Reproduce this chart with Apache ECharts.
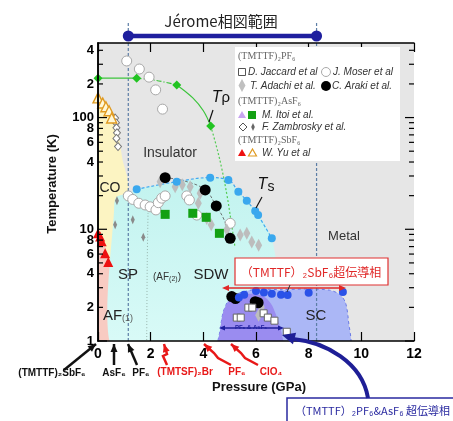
<!DOCTYPE html>
<html><head><meta charset="utf-8">
<script src="https://cdn.jsdelivr.net/npm/echarts@6/dist/echarts.min.js"></script>
<style>html,body{margin:0;padding:0;background:#fff}#c{width:453px;height:421px}</style>
</head><body><div id="c"></div>
<script>
// ---------------- data (pressure GPa, temperature K) ----------------
const pressureTicks = [0, 2, 4, 6, 8, 10, 12];
const tempMajorTicks = [1, 10, 100];
const tempMinorTicks = [2, 3, 4, 5, 6, 7, 8, 9, 20, 30, 40, 50, 60, 70, 80, 90, 200, 300, 400];
const tempTickLabels = [[1, '1'], [2, '2'], [4, '4'], [6, '6'], [8, '8'], [10, '10'], [40, '4'], [60, '6'], [80, '8'], [100, '100'], [200, '2'], [400, '4']];
const tempMax = 465;
const jeromeRange = [1.15, 8.3];

// (TMTTF)2PF6
const moserPF6 = [[1.09, 321], [1.57, 272], [1.94, 230], [2.19, 177], [2.45, 119],
  [1.15, 19.9], [1.32, 18.5], [1.55, 17.1], [1.79, 16.5], [1.98, 15.9], [2.2, 14.9], [2.29, 17.3], [2.42, 19.0],
  [2.55, 19.9], [3.37, 19.9], [3.47, 18.3], [3.75, 13.4], [5.02, 11.3]];
const arakiPF6 = [[2.55, 29], [4.07, 22.5], [4.49, 16.2], [5.02, 8.3], [5.08, 2.5], [5.22, 2.4], [5.97, 2.25], [6.08, 2.2]];
const jaccardPF6 = [[5.27, 1.62], [5.42, 1.62], [5.71, 1.99], [5.86, 1.99], [6.29, 1.77], [6.45, 1.62], [6.7, 1.52], [7.17, 1.21]];
const adachiPF6 = [[2.36, 26.7], [2.93, 24], [3.2, 25], [3.5, 24], [3.88, 21], [3.81, 17.1], [4.13, 12.5], [4.3, 11],
  [4.89, 9.9], [5.4, 8.9], [5.65, 9.2], [5.84, 7.7], [6.1, 7.2], [6.2, 2.0], [6.1, 1.7]];
// (TMTTF)2AsF6
const itoiAsF6 = [[2.55, 13.6], [3.6, 13.9], [4.11, 12.8], [4.61, 9.2]];
const zambrOpen = [[0.65, 99], [0.68, 90], [0.7, 81], [0.72, 73], [0.7, 65], [0.76, 55]];
const zambrFilled = [[0.72, 18], [0.65, 11], [1.32, 12.2], [1.72, 8.5]];
// (TMTTF)2SbF6
const yuFilled = [[0, 9.2], [0.08, 8.6], [0.14, 7.8], [0.27, 6.1], [0.39, 5.1]];
const yuOpen = [[0, 150], [0.18, 135], [0.3, 125], [0.42, 115], [0.52, 99]];
const tcSbF6 = [[5.35, 2.45], [5.55, 2.6], [6.0, 2.8], [6.3, 2.72], [6.6, 2.65], [6.95, 2.6], [7.2, 2.58], [8.0, 2.7], [9.3, 2.75]];

// T_rho and T_s lines
const tRhoPts = [[0, 225], [1.47, 225], [2.99, 196], [4.28, 84]];
const tRhoSolidA = [[0, 225], [1.47, 225]];
const tRhoDashed = [[1.47, 225], [2.2, 215], [2.99, 196]];
const tRhoSolidB = [[2.99, 196], [3.6, 150], [4.0, 115], [4.28, 84]];
const tRhoDotted = [[4.28, 84], [4.5, 55], [4.7, 35], [4.9, 20], [5.05, 12], [5.2, 7]];
const tsPts = [[1.47, 22.8], [2.99, 26.7], [4.26, 29], [4.95, 27.6], [5.33, 21.7], [5.65, 18], [5.97, 14.6], [6.08, 13.4], [6.6, 8.3]];
const arakiLine = [[2.55, 29], [3.3, 27], [4.07, 22.5], [4.49, 16.2], [4.8, 12], [5.02, 8.3]];
const spLine = [[1.9, 14], [1.87, 5], [1.85, 1]];

// phase regions (boundaries)
const regionCO = [[-0.3, 0.8], [-0.3, 155], [0, 155], [0.3, 130], [0.6, 100], [0.75, 80], [0.85, 55], [0.95, 40], [1.1, 30], [1.15, 22], [0.7, 19], [0.62, 15], [0.62, 0.8]];
const regionAF1 = [[-0.3, 0.8], [-0.3, 10], [0, 10], [0.2, 8.2], [0.4, 5.5], [0.62, 4.5], [0.62, 0.8]];
const regionSDW = [[0.62, 0.8], [0.62, 17], [0.7, 19.5], [1.15, 21], [1.47, 22.8], [2.99, 26.7], [4.26, 29], [4.95, 27.6], [5.33, 21.7], [5.65, 18], [5.97, 14.6], [6.3, 11.5], [6.6, 8.3], [6.75, 5.5], [6.85, 3], [6.85, 0.8]];
const regionSCSb = [[4.6, 0.8], [4.65, 1.3], [4.75, 1.8], [4.95, 2.3], [5.3, 2.65], [6, 2.9], [7, 2.88], [8, 2.92], [8.8, 2.85], [9.2, 2.6], [9.4, 2.2], [9.5, 1.6], [9.5, 0.8]];
const regionSCPF = [[4.6, 0.8], [4.65, 1.3], [4.75, 1.8], [4.95, 2.25], [5.3, 2.55], [5.8, 2.65], [6.3, 2.5], [6.6, 2.1], [6.85, 1.5], [7.0, 1.1], [7.05, 0.8]];

// ---------------- chart ----------------
const FONT = '"Liberation Sans", Arial, sans-serif';
const JP = '"Noto Sans CJK JP", "Liberation Sans", sans-serif';
const allTicks = tempMajorTicks.concat(tempMinorTicks);
const labelMap = new Map(tempTickLabels);

const regions = [
  { pts: regionCO, fill: '#fcf4c2', smooth: 0.15 },
  { pts: regionAF1, fill: '#f8cbc2', smooth: 0 },
  { pts: regionSDW, fill: { type: 'linear', x: 0, y: 0, x2: 0, y2: 1, colorStops: [{ offset: 0, color: '#c2f3ef' }, { offset: 1, color: '#dbfbf8' }] }, smooth: 0.2 },
  { pts: regionSCSb, fill: '#abb7f6', smooth: 0.25, stroke: '#6a7ae6', dash: [3, 3] },
  { pts: regionSCPF, fill: '#9a8cf0', smooth: 0.25 }
];

function sc(name, data, symbol, size, color, border, bw, z) {
  return { type: 'scatter', name, data, symbol, symbolSize: size, z: z || 10,
    itemStyle: { color, borderColor: border || color, borderWidth: bw || 0, opacity: 1 } };
}
function ln(data, color, width, type, z) {
  return { type: 'line', data, symbol: 'none', smooth: 0.4, z: z || 6, silent: true,
    lineStyle: { color, width, type } };
}

const series = [
  { type: 'custom', coordinateSystem: 'cartesian2d', clip: true, silent: true, z: 1, data: [[0, 1]],
    renderItem: (p, api) => ({ type: 'group', children: regions.map(r => ({
      type: 'polygon', shape: { points: r.pts.map(q => api.coord(q)), smooth: r.smooth },
      style: { fill: r.fill, stroke: r.stroke || null, lineWidth: r.stroke ? 1 : 0, lineDash: r.dash || null } })) }) },
  { type: 'custom', coordinateSystem: 'cartesian2d', clip: false, silent: true, z: 4, data: [[0, 1]],
    renderItem: (p, api) => {
      const xa = api.coord([jeromeRange[0], 1])[0], xb = api.coord([jeromeRange[1], 1])[0];
      const yb = api.coord([0, 1])[1], yt = api.coord([0, tempMax])[1];
      const dash = { stroke: '#5d7ea6', lineWidth: 1.2, lineDash: [3, 2] };
      return { type: 'group', children: [
        { type: 'line', shape: { x1: xa, y1: yt - 20, x2: xa, y2: yb }, style: dash },
        { type: 'line', shape: { x1: xb, y1: yt - 20, x2: xb, y2: yb }, style: dash },
        { type: 'line', shape: { x1: xa, y1: yt - 7, x2: xb, y2: yt - 7 }, style: { stroke: '#1f1f9e', lineWidth: 4.5 }, z2: 5 },
        { type: 'circle', shape: { cx: xa, cy: yt - 7, r: 5.5 }, style: { fill: '#1f1f9e' }, z2: 5 },
        { type: 'circle', shape: { cx: xb, cy: yt - 7, r: 5.5 }, style: { fill: '#1f1f9e' }, z2: 5 }
      ] };
    } },
  ln(tRhoSolidA, '#3cc43c', 1.2, 'solid'),
  ln(tRhoDashed, '#3cc43c', 1.2, [5, 2, 1, 2]),
  ln(tRhoSolidB, '#3cc43c', 1.2, 'solid'),
  ln(tRhoDotted, '#55cc55', 1.2, [2, 2]),
  ln(tsPts, '#40a8f0', 1.2, [3, 2]),
  ln(arakiLine, '#555555', 0.8, [3, 2]),
  ln(spLine, '#8aa39a', 0.8, [1, 2]),
  sc('Moser', moserPF6, 'circle', 10, '#ffffff', '#a8a8a8', 1),
  sc('Adachi', adachiPF6, 'diamond', [7, 13], '#bdbdbd'),
  sc('ZambrOpen', zambrOpen, 'diamond', [7, 8], '#ffffff', '#777', 1),
  sc('ZambrFilled', zambrFilled, 'diamond', [4, 9], '#8a8a8a'),
  sc('YuOpen', yuOpen, 'triangle', 10, '#fff8d8', '#e09a20', 1.4),
  sc('YuFilled', yuFilled, 'triangle', 10, '#ee1111'),
  sc('Itoi', itoiAsF6, 'rect', 9, '#13a013'),
  sc('Araki', arakiPF6, 'circle', 11, '#000000'),
  sc('Ts', tsPts, 'circle', 8, '#3aa8ee'),
  sc('TcSb', tcSbF6, 'circle', 8, '#2a52e8'),
  sc('Jaccard', jaccardPF6, 'rect', 7, '#ffffff', '#666', 1, 11),
  sc('Trho', tRhoPts, 'diamond', 9, '#22c422'),
  { type: 'custom', coordinateSystem: 'cartesian2d', clip: false, silent: true, z: 30,
    data: allTicks.map(t => [0, t]),
    renderItem: (p, api) => {
      const v = allTicks[p.dataIndex];
      const pl = api.coord([0, v]), pr = api.coord([12, v]);
      const len = tempMajorTicks.includes(v) ? 9 : 5;
      const ch = [
        { type: 'line', shape: { x1: pl[0], y1: pl[1], x2: pl[0] + len, y2: pl[1] }, style: { stroke: '#000', lineWidth: 1.2 } },
        { type: 'line', shape: { x1: pr[0], y1: pr[1], x2: pr[0] - len, y2: pr[1] }, style: { stroke: '#000', lineWidth: 1.2 } }
      ];
      if (labelMap.has(v)) ch.push({ type: 'text', x: pl[0] - 4, y: pl[1],
        style: { text: labelMap.get(v), fill: '#000', align: 'right', verticalAlign: 'middle', font: 'bold 13px ' + FONT } });
      return { type: 'group', children: ch };
    } }
];

// ---------------- annotations (layout) ----------------
const G = [];
function txt(x, y, text, font, fill, align, extra) {
  G.push(Object.assign({ type: 'text', x, y, z: 100,
    style: { text, font, fill: fill || '#222', align: align || 'center', verticalAlign: 'middle' } }, extra || {}));
}
function head(x1, y1, x2, y2, color, len, wid) {
  const a = Math.atan2(y2 - y1, x2 - x1);
  const bx = x2 - len * Math.cos(a), by = y2 - len * Math.sin(a);
  const nx = -Math.sin(a) * wid / 2, ny = Math.cos(a) * wid / 2;
  G.push({ type: 'polygon', z: 101, shape: { points: [[x2, y2], [bx + nx, by + ny], [bx - nx, by - ny]] }, style: { fill: color } });
}
function arrow(pts, color, w, hl, hw) {
  G.push({ type: 'polyline', z: 100, shape: { points: pts }, style: { stroke: color, lineWidth: w, fill: null } });
  const n = pts.length;
  head(pts[n - 2][0], pts[n - 2][1], pts[n - 1][0], pts[n - 1][1], color, hl, hw);
}
function shape(type, sh, style) { G.push({ type, shape: sh, style, z: 102 }); }

// title
txt(221, 21, 'Jérome相図範囲', '15px ' + JP, '#222');

// legend
G.push({ type: 'rect', z: 99, shape: { x: 235, y: 47, width: 165, height: 114 }, style: { fill: '#ffffff' } });
const SERIF = '10px "Liberation Serif", serif';
const IT = 'italic 10px ' + FONT;
txt(238, 56, '(TMTTF)₂PF₆', SERIF, '#666', 'left');
shape('rect', { x: 238.5, y: 68.5, width: 7, height: 7 }, { fill: '#fff', stroke: '#555', lineWidth: 1 });
txt(248, 72, 'D. Jaccard et al', IT, '#333', 'left');
shape('circle', { cx: 326, cy: 72, r: 4.5 }, { fill: '#fff', stroke: '#aaa', lineWidth: 1 });
txt(333, 72, 'J. Moser et al', IT, '#333', 'left');
shape('polygon', { points: [[242, 79], [245.5, 85.5], [242, 92], [238.5, 85.5]] }, { fill: '#c0c0c0' });
txt(250, 86, 'T. Adachi et al.', IT, '#333', 'left');
shape('circle', { cx: 326, cy: 86, r: 5 }, { fill: '#000' });
txt(332, 86, 'C. Araki et al.', IT, '#333', 'left');
txt(238, 101, '(TMTTF)₂AsF₆', SERIF, '#666', 'left');
shape('polygon', { points: [[242, 111], [246, 118], [238, 118]] }, { fill: '#c8a4f0' });
shape('rect', { x: 248, y: 111, width: 8, height: 8 }, { fill: '#13a013' });
txt(262, 115, 'M. Itoi et al.', IT, '#333', 'left');
shape('polygon', { points: [[243, 123], [247, 127], [243, 131], [239, 127]] }, { fill: '#fff', stroke: '#555', lineWidth: 1 });
shape('polygon', { points: [[253, 123], [254.8, 127], [253, 131], [251.2, 127]] }, { fill: '#666' });
txt(262, 127, 'F. Zambrosky et al.', IT, '#333', 'left');
txt(238, 140, '(TMTTF)₂SbF₆', SERIF, '#666', 'left');
shape('polygon', { points: [[242, 149], [246, 156], [238, 156]] }, { fill: '#ee1111' });
shape('polygon', { points: [[252.5, 149], [256.5, 156], [248.5, 156]] }, { fill: '#fff', stroke: '#e09a20', lineWidth: 1.2 });
txt(262, 153, 'W. Yu et al', IT, '#333', 'left');

// phase labels
txt(170, 153, 'Insulator', '14px ' + FONT, '#333');
txt(110, 188, 'CO', '14px ' + FONT, '#222');
txt(344, 236, 'Metal', '13px ' + FONT, '#333');
txt(128, 275, 'SP', '15px ' + FONT, '#222');
G.push({ type: 'text', x: 167, y: 277, z: 100, style: { text: '{a|(AF}{b|(2)}{a|)}', align: 'center', verticalAlign: 'middle',
  rich: { a: { font: '10px ' + FONT, fill: '#333' }, b: { font: '7px ' + FONT, fill: '#333', padding: [4, 0, 0, 0] } } } });
txt(211, 275, 'SDW', '15px ' + FONT, '#222');
G.push({ type: 'text', x: 118, y: 316, z: 100, style: { text: '{a|AF}{b|(1)}', align: 'center', verticalAlign: 'middle',
  rich: { a: { font: '15px ' + FONT, fill: '#222' }, b: { font: '9px ' + FONT, fill: '#555', padding: [5, 0, 0, 0] } } } });
txt(316, 316, 'SC', '15px ' + FONT, '#222');

// T_rho, T_s labels
G.push({ type: 'text', x: 221, y: 98, z: 100, style: { text: '{a|T}{b|ρ}', align: 'center', verticalAlign: 'middle',
  rich: { a: { font: 'italic 16px ' + FONT, fill: '#111' }, b: { font: '15px ' + FONT, fill: '#111' } } } });
G.push({ type: 'line', z: 100, shape: { x1: 213, y1: 110, x2: 209, y2: 122 }, style: { stroke: '#111', lineWidth: 1.2 } });
G.push({ type: 'text', x: 266, y: 185, z: 100, style: { text: '{a|T}{b|s}', align: 'center', verticalAlign: 'middle',
  rich: { a: { font: 'italic 16px ' + FONT, fill: '#111' }, b: { font: '14px ' + FONT, fill: '#111', padding: [5, 0, 0, 0] } } } });
G.push({ type: 'line', z: 100, shape: { x1: 262, y1: 197, x2: 256, y2: 208 }, style: { stroke: '#111', lineWidth: 1.2 } });

// SbF6 SC box + arrow
G.push({ type: 'rect', z: 100, shape: { x: 235, y: 258, width: 153, height: 27 }, style: { fill: '#fff', stroke: '#e03030', lineWidth: 1.2 } });
txt(311, 272, '（TMTTF）₂SbF₆超伝導相', '12px ' + JP, '#e02828');
G.push({ type: 'line', z: 100, shape: { x1: 228, y1: 288, x2: 340, y2: 288 }, style: { stroke: '#e02828', lineWidth: 1.5 } });
head(240, 288, 222, 288, '#e02828', 7, 6);
head(330, 288, 346, 288, '#e02828', 7, 6);
G.push({ type: 'line', z: 100, shape: { x1: 290, y1: 285, x2: 287, y2: 292 }, style: { stroke: '#333', lineWidth: 1 } });

// PF6 & AsF6 SC arrow
G.push({ type: 'line', z: 100, shape: { x1: 224, y1: 328, x2: 279, y2: 328 }, style: { stroke: '#1f1f9e', lineWidth: 1.3 } });
head(230, 328, 219, 328, '#1f1f9e', 6, 5);
head(273, 328, 284, 328, '#1f1f9e', 6, 5);
txt(251, 327, 'PF₆ & AsF₆', 'bold 6px ' + FONT, '#1f1f9e');

// navy box + curved arrow
G.push({ type: 'rect', z: 100, shape: { x: 287, y: 398, width: 180, height: 30 }, style: { fill: '#fff', stroke: '#2a2aa0', lineWidth: 1.5 } });
txt(295, 411, '（TMTTF）₂PF₆&AsF₆ 超伝導相', '11px ' + JP, '#2a2aa0', 'left');
G.push({ type: 'bezierCurve', z: 100, shape: { x1: 368, y1: 398, cpx1: 362, cpy1: 362, cpx2: 325, cpy2: 342, x2: 293, y2: 339 },
  style: { stroke: '#1e1e96', lineWidth: 4, fill: null } });
head(300, 340, 282, 335, '#1e1e96', 13, 12);

// bottom compound labels and arrows
const BL = 'bold 10px ' + FONT;
txt(52, 373, '(TMTTF)₂SbF₆', BL, '#111');
arrow([[64, 370], [96, 344]], '#111', 2.5, 8, 7);
txt(114, 373, 'AsF₆', BL, '#111');
arrow([[114, 365], [114, 344]], '#111', 2.5, 8, 7);
txt(141, 373, 'PF₆', BL, '#111');
arrow([[137, 365], [128, 344]], '#111', 2.5, 8, 7);
txt(185, 372, '(TMTSF)₂Br', BL, '#e81818');
txt(237, 372, 'PF₆', BL, '#e81818');
txt(271, 372, 'ClO₄', BL, '#e81818');
arrow([[167, 365], [163, 356], [167, 354], [164, 344]], '#e81818', 2.5, 8, 7);
arrow([[231, 365], [218, 358], [214, 353], [204, 344]], '#e81818', 2.5, 8, 7);
arrow([[258, 365], [245, 358], [241, 353], [231, 344]], '#e81818', 2.5, 8, 7);

// axis titles
txt(259, 387, 'Pressure (GPa)', 'bold 13px ' + FONT, '#111');
txt(52, 184, 'Temperature (K)', 'bold 13px ' + FONT, '#111', 'center', { rotation: Math.PI / 2 });

const axisLine = { show: true, lineStyle: { color: '#000', width: 1.5 } };
const option = {
  animation: false,
  backgroundColor: '#ffffff',
  grid: { left: 98, right: 39, top: 43, bottom: 80, show: true, backgroundColor: '#e6e6e6', borderWidth: 0 },
  xAxis: [
    { type: 'value', min: pressureTicks[0], max: pressureTicks[pressureTicks.length - 1], interval: 2, z: 20,
      axisLine, axisTick: { inside: true, length: 9, lineStyle: { color: '#000', width: 1.2 } },
      axisLabel: { margin: 6, color: '#000', fontWeight: 'bold', fontSize: 14, fontFamily: FONT }, splitLine: { show: false } },
    { type: 'value', position: 'top', min: pressureTicks[0], max: pressureTicks[pressureTicks.length - 1], interval: 2, z: 20,
      axisLine, axisTick: { inside: true, length: 9, lineStyle: { color: '#000', width: 1.2 } },
      axisLabel: { show: false }, splitLine: { show: false } }
  ],
  yAxis: [
    { type: 'log', logBase: 10, min: 1, max: tempMax, z: 20, axisLine, axisTick: { show: false }, axisLabel: { show: false }, splitLine: { show: false } },
    { type: 'log', logBase: 10, min: 1, max: tempMax, position: 'right', z: 20, axisLine, axisTick: { show: false }, axisLabel: { show: false }, splitLine: { show: false } }
  ],
  series,
  graphic: G
};
const chart = echarts.init(document.getElementById('c'), null, { renderer: 'canvas' });
chart.setOption(option);
</script>
</body></html>
